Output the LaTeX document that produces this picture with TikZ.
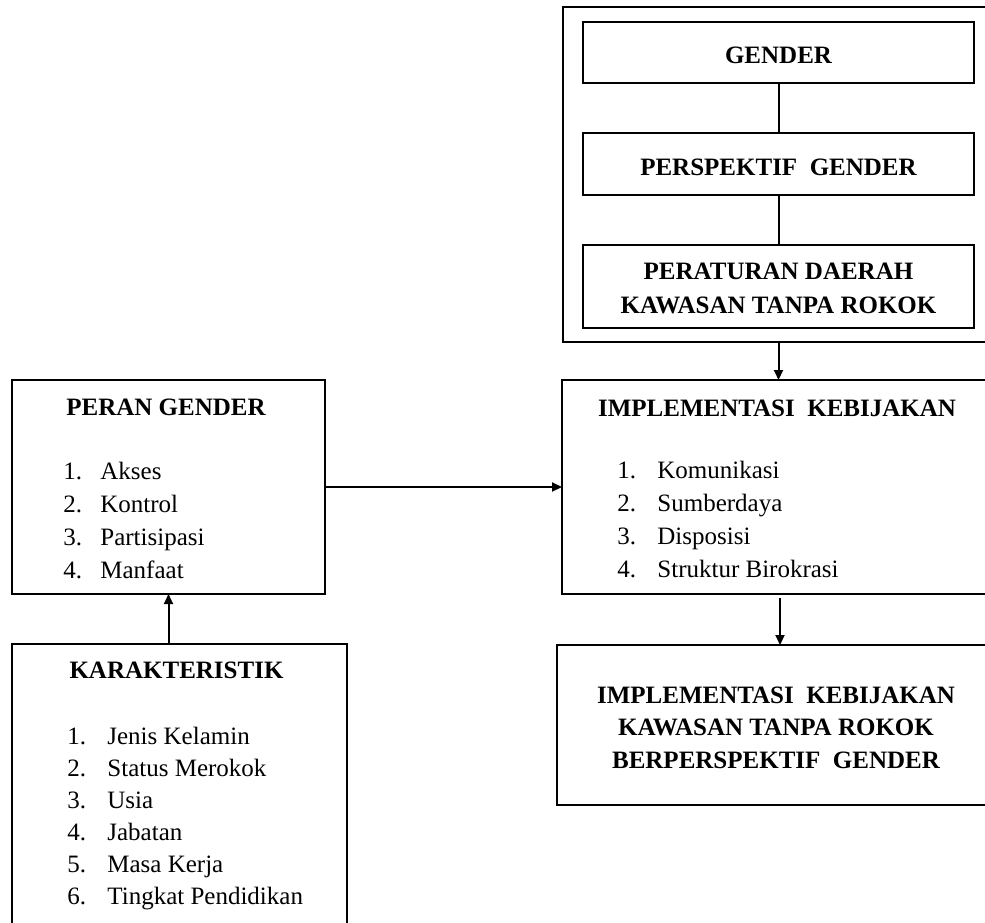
\documentclass[tikz,border=0pt]{standalone}
\usepackage{fontspec}
\setmainfont{Liberation Serif}
\usetikzlibrary{arrows.meta,calc}
\begin{document}
\begin{tikzpicture}[x=0.5pt,y=-0.5pt,
  box/.style={draw,line width=1pt,inner sep=0pt,outer sep=0pt,rectangle},
  ttl/.style={inner sep=0pt,anchor=base,font=\fontsize{12.5pt}{15pt}\selectfont\bfseries},
  itm/.style={inner sep=0pt,anchor=base west,font=\fontsize{12.5pt}{15pt}\selectfont},
  arr/.style={line width=1pt,-{Triangle[length=5pt,width=4.5pt]}},
  con/.style={line width=1pt}]
\clip (0,0) rectangle (985,922);
% boxes
\node[box,minimum width=218.5pt,minimum height=167.5pt] (outer) at (781.5,174.5) {};
\node[box,minimum width=195.5pt,minimum height=30.5pt] (gender) at (778.5,52.5) {};
\node[box,minimum width=195.5pt,minimum height=31pt] (persp) at (778.5,164) {};
\node[box,minimum width=195.5pt,minimum height=41.5pt] (perda) at (778.5,286.5) {};
\node[box,minimum width=219pt,minimum height=107pt] (impl) at (781,487) {};
\node[box,minimum width=221.5pt,minimum height=80pt] (final) at (778.5,725) {};
\node[box,minimum width=156.5pt,minimum height=107pt] (peran) at (168.5,487) {};
\node[box,minimum width=167.5pt,minimum height=158pt] (karak) at (179.5,802) {};
% titles
\node[ttl] (tgender) at (778.5,63) {GENDER};
\node[ttl] (tpersp) at (778.5,175) {PERSPEKTIF\ \ GENDER};
\node[ttl] (tperda1) at (778.5,279) {PERATURAN DAERAH};
\node[ttl] (tperda2) at (778.5,313) {KAWASAN TANPA ROKOK};
\node[ttl] (timpl) at (777,416) {IMPLEMENTASI\ \ KEBIJAKAN};
\node[ttl] (tfinal1) at (776,703) {IMPLEMENTASI\ \ KEBIJAKAN};
\node[ttl] (tfinal2) at (776,735) {KAWASAN TANPA ROKOK};
\node[ttl] (tfinal3) at (776,768) {BERPERSPEKTIF\ \ GENDER};
\node[ttl] (tperan) at (166,415) {PERAN GENDER};
\node[ttl] (tkarak) at (176.5,678) {KARAKTERISTIK};
% lists
\foreach \t [count=\i] in {Akses,Kontrol,Partisipasi,Manfaat}
  \node[itm] (pg\i) at (63,{479+33*(\i-1)}) {\makebox[18.5pt][l]{\i.}\t};
\foreach \t [count=\i] in {Komunikasi,Sumberdaya,Disposisi,Struktur Birokrasi}
  \node[itm] (ik\i) at (617,{478+33*(\i-1)}) {\makebox[20pt][l]{\i.}\t};
\foreach \t [count=\i] in {Jenis Kelamin,Status Merokok,Usia,Jabatan,Masa Kerja,Tingkat Pendidikan}
  \node[itm] (kr\i) at (67,{744+32*(\i-1)}) {\makebox[20pt][l]{\i.}\t};
% connectors
\draw[con] (gender.south) -- (persp.north);
\draw[con] (persp.south) -- (perda.north);
\draw[arr] (outer.south -| gender.south) -- (impl.north -| gender.south);
\draw[arr] ($(impl.south -| gender.south)+(1.5,4)$) -- (final.north -| {$(gender.south)+(1.5,0)$});
\draw[arr] (peran.east) -- (impl.west);
\draw[arr] (karak.north -| peran.south) -- (peran.south);
\end{tikzpicture}
\end{document}
